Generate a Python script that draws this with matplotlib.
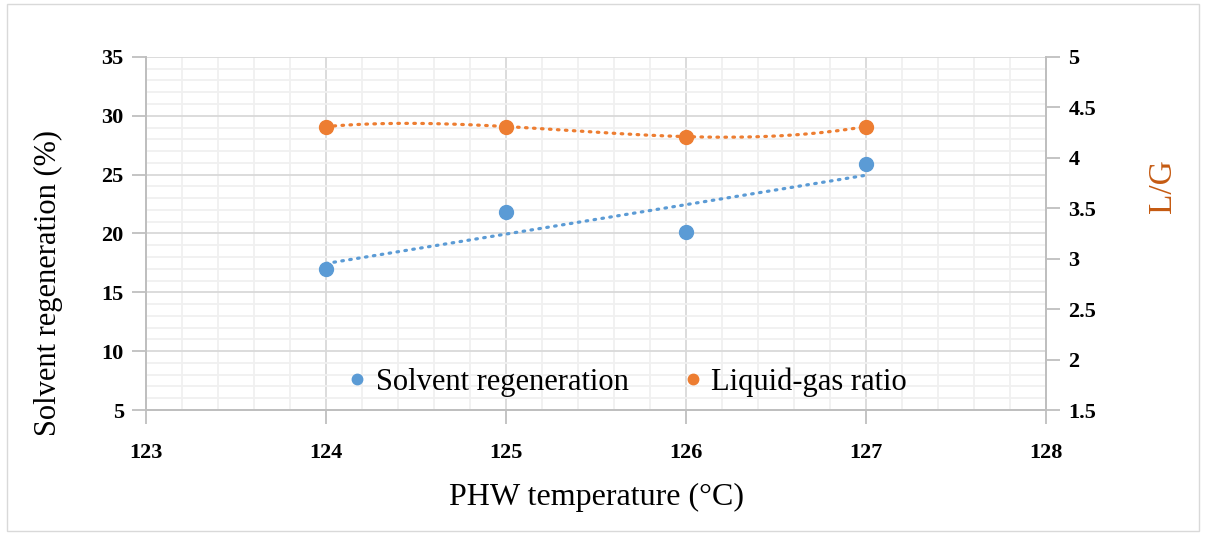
import numpy as np
import matplotlib.pyplot as plt
from matplotlib.patches import Rectangle
from matplotlib.ticker import MultipleLocator

temps = [124, 125, 126, 127]
solvent_regen = [17.0, 21.8, 20.1, 25.9]
lg_ratio = [4.31, 4.31, 4.21, 4.31]

x_ticks = [123, 124, 125, 126, 127, 128]
left_ticks = [5, 10, 15, 20, 25, 30, 35]
right_ticks = [1.5, 2, 2.5, 3, 3.5, 4, 4.5, 5]
right_labels = ['1.5', '2', '2.5', '3', '3.5', '4', '4.5', '5']

blue = '#5B9BD5'
orange = '#ED7D31'
grid_major = '#D9D9D9'
grid_minor = '#F0F0F0'

plt.rcParams['font.family'] = 'Liberation Serif'

fig = plt.figure(figsize=(12.05, 5.35), dpi=100)
fig.patches.append(Rectangle((0.006, 0.008), 0.989, 0.984, transform=fig.transFigure,
                             fill=False, edgecolor='#D9D9D9', linewidth=1))

ax1 = fig.add_axes([0.1212, 0.2336, 0.7469, 0.66])
ax2 = ax1.twinx()

# axes + grid
ax1.set_xlim(123, 128)
ax1.set_ylim(5, 35)
ax2.set_ylim(1.5, 5)
ax1.set_xticks(x_ticks)
ax1.set_xticklabels([str(t) for t in x_ticks])
ax1.set_yticks(left_ticks)
ax1.set_yticklabels([str(t) for t in left_ticks])
ax2.set_yticks(right_ticks)
ax2.set_yticklabels(right_labels)
ax1.xaxis.set_minor_locator(MultipleLocator(0.2))
ax1.yaxis.set_minor_locator(MultipleLocator(1))
ax1.grid(which='major', color=grid_major, linewidth=1.3)
ax1.grid(which='minor', color=grid_minor, linewidth=1.3)
ax1.set_axisbelow(True)

# trendlines (linear for regeneration, poly for L/G)
dots = (0, (0.5, 2.0))
x = np.array(temps, dtype=float)
p1 = np.polyfit(x, solvent_regen, 1)
ax1.plot(x, np.polyval(p1, x), linestyle=dots, color=blue, linewidth=2.3,
         dash_capstyle='round', zorder=2)
xs = np.linspace(124, 127, 200)
p2 = np.polyfit(x, lg_ratio, 3)
ax2.plot(xs, np.polyval(p2, xs), linestyle=dots, color=orange, linewidth=2.3,
         dash_capstyle='round', zorder=2)

# points
ax1.plot(temps, solvent_regen, 'o', color=blue, markersize=10, zorder=3,
         label='Solvent regeneration')
ax2.plot(temps, lg_ratio, 'o', color=orange, markersize=10, zorder=3,
         label='Liquid-gas ratio')

for ax in (ax1, ax2):
    ax.spines['top'].set_visible(False)
    for s in ['left', 'right', 'bottom']:
        ax.spines[s].set_color('#BFBFBF')
        ax.spines[s].set_linewidth(1.3)

ax1.tick_params(which='major', length=10, width=1.3, color='#BFBFBF', labelsize=16, pad=6)
ax1.tick_params(which='minor', length=0)
ax2.tick_params(which='major', length=10, width=1.3, color='#BFBFBF', labelsize=16, pad=6)
ax1.tick_params(axis='x', pad=14)
for lab in ax1.get_xticklabels() + ax1.get_yticklabels() + ax2.get_yticklabels():
    lab.set_fontweight('bold')

ax1.set_xlabel('PHW temperature (°C)', fontsize=23)
ax1.xaxis.set_label_coords(0.5, -0.205)
ax1.set_ylabel('Solvent regeneration (%)', fontsize=22)
ax1.yaxis.set_label_coords(-0.092, 0.36)
ax2.set_ylabel('L/G', fontsize=24, color='#C55A11')
ax2.yaxis.set_label_coords(1.113, 0.635)

h1, l1 = ax1.get_legend_handles_labels()
h2, l2 = ax2.get_legend_handles_labels()
ax1.legend(h1 + h2, l1 + l2, loc='center', bbox_to_anchor=(0.535, 0.08), ncol=2,
           frameon=False, fontsize=22, handlelength=0.6, handletextpad=0.3,
           columnspacing=1.8, markerscale=0.75)

plt.savefig('out.png', dpi=100)
plt.close()
